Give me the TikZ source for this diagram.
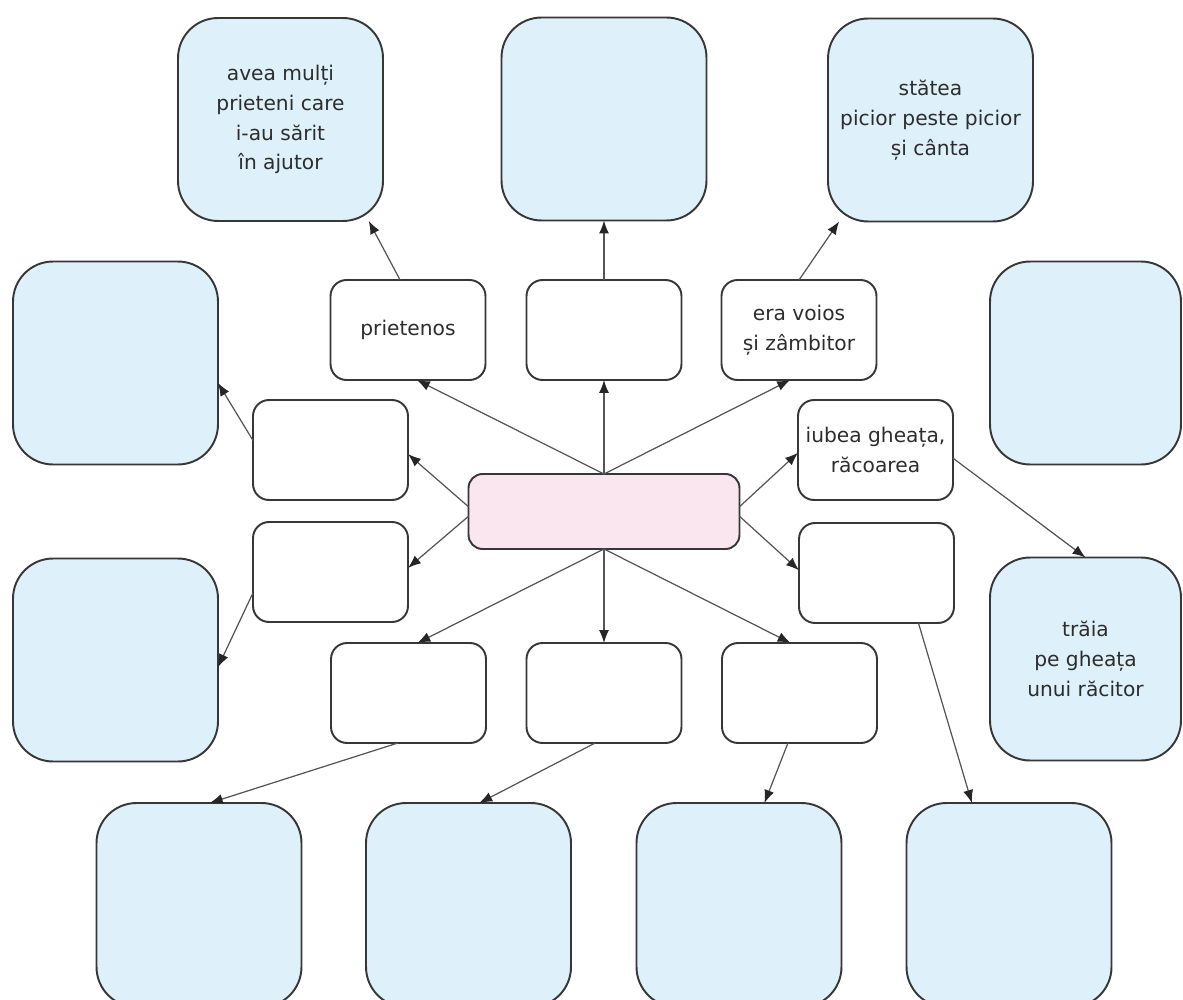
\documentclass[tikz,border=0pt]{standalone}
\usepackage{fontspec}
\setmainfont{DejaVu Sans}
\usetikzlibrary{arrows.meta}
\definecolor{boxblue}{RGB}{222,240,249}
\definecolor{boxpink}{RGB}{250,230,238}
\definecolor{boxline}{RGB}{55,55,55}
\definecolor{arrowline}{RGB}{85,85,85}
\definecolor{textgray}{RGB}{45,45,45}
\begin{document}
\begin{tikzpicture}[x=0.02cm,y=-0.02cm,
    bigbox/.style={draw=boxline,line width=1.1pt,fill=boxblue,rounded corners=0.8cm,
      minimum width=4.1cm,minimum height=4.06cm,outer sep=0pt,align=center,
      text=textgray,font=\fontsize{11.5}{17}\selectfont},
    smallbox/.style={draw=boxline,line width=1.1pt,fill=white,rounded corners=0.32cm,
      minimum width=3.1cm,minimum height=2cm,outer sep=0pt,align=center,
      text=textgray,font=\fontsize{11.5}{17}\selectfont},
    centerbox/.style={draw=boxline,line width=1.1pt,fill=boxpink,rounded corners=0.28cm,
      minimum width=5.42cm,minimum height=1.5cm,outer sep=0pt},
    link/.style={draw=arrowline,line width=0.7pt,-{Latex[length=2.6mm,width=2mm,color=black!85]}}]
      \clip (0,0) rectangle (1183,1000);
      % casetele mari
      \node[bigbox] (sus1) at (280.5,119.5) {avea mulți\\prieteni care\\i-au sărit\\în ajutor};
      \node[bigbox] (sus2) at (604,119) {};
      \node[bigbox] (sus3) at (930.5,120) {stătea\\picior peste picior\\și cânta};
      \node[bigbox] (stanga1) at (115.5,363) {};
      \node[bigbox,minimum width=3.82cm] (dreapta1) at (1085.5,363) {};
      \node[bigbox] (stanga2) at (115.5,660) {};
      \node[bigbox,minimum width=3.82cm] (dreapta2) at (1085.5,659) {trăia\\pe gheața\\unui răcitor};
      \node[bigbox,minimum height=4.08cm] (jos1) at (199,905) {};
      \node[bigbox,minimum height=4.08cm] (jos2) at (468.5,905) {};
      \node[bigbox,minimum height=4.08cm] (jos3) at (739,905) {};
      \node[bigbox,minimum height=4.08cm] (jos4) at (1009,905) {};
      % casetele mici
      \node[smallbox] (prietenos) at (408,330) {prietenos};
      \node[smallbox] (trasatura2) at (604,330) {};
      \node[smallbox] (voios) at (799,330) {era voios\\și zâmbitor};
      \node[smallbox] (trasatura4) at (330.5,450) {};
      \node[smallbox] (trasatura5) at (330.5,572) {};
      \node[smallbox] (iubea) at (875.5,450) {iubea gheața,\\răcoarea};
      \node[smallbox] (trasatura7) at (876.5,573) {};
      \node[smallbox] (trasatura8) at (408.5,693) {};
      \node[smallbox] (trasatura9) at (604,693) {};
      \node[smallbox] (trasatura10) at (799.5,693) {};
      \node[centerbox] (personaj) at (604,511.5) {};
      % sagetile din centru
      \draw[link] (personaj.north) -- (prietenos.-80);
      \draw[link] (personaj.north) -- (trasatura2.south);
      \draw[link] (personaj.north) -- (voios.-100);
      \draw[link] (personaj.178) -- (trasatura4.-3);
      \draw[link] (personaj.182) -- (trasatura5.3);
      \draw[link] (personaj.south) -- (trasatura8.80);
      \draw[link] (personaj.south) -- (trasatura9.north);
      \draw[link] (personaj.south) -- (trasatura10.100);
      \draw[link] (personaj.2) -- (iubea.182);
      \draw[link] (personaj.-2) -- (trasatura7.178);
      % sagetile spre casetele mari
      \draw[link] (prietenos.99) -- (sus1.-49);
      \draw[link] (trasatura2.north) -- (sus2.south);
      \draw[link] (voios.north) -- (sus3.-132);
      \draw[link] (trasatura4.173) -- (stanga1.-11);
      \draw[link] (trasatura5.195) -- (stanga2.-4);
      \draw[link] (iubea.-6) -- (dreapta2.north);
      \draw[link] (trasatura7.-50) -- (jos4.110);
      \draw[link] (trasatura10.-103) -- (jos3.76);
      \draw[link] (trasatura9.-100) -- (jos2.84);
      \draw[link] (trasatura8.-102) -- (jos1.84);
    \end{tikzpicture}
\end{document}
